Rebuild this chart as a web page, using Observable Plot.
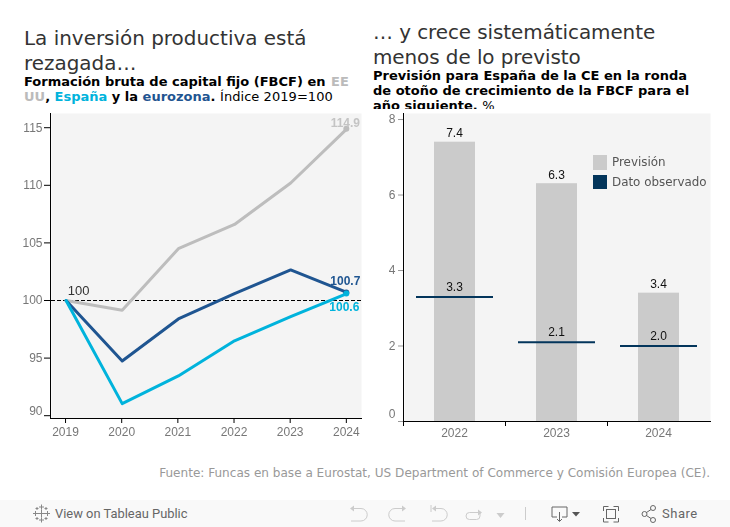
<!DOCTYPE html>
<html><head><meta charset="utf-8">
<script src="https://cdn.jsdelivr.net/npm/d3@7"></script>
<script src="https://cdn.jsdelivr.net/npm/@observablehq/plot@0.6"></script>
<style>
html,body{margin:0;padding:0;background:#fff;overflow:hidden}
#root{position:relative;width:730px;height:527px;font-family:"DejaVu Sans",sans-serif}
.abs{position:absolute}
.title{font-size:19.95px;line-height:24.5px;color:#333;white-space:pre}
.sub{font-size:13px;line-height:15px;color:#000;font-weight:bold;white-space:pre}
.sub span.n{font-weight:normal}
.leg{font-size:11.9px;color:#555}
svg{overflow:visible}
#left,#right{will-change:transform}
#bar{left:0;top:500px;width:730px;height:27px;background:#f9f9f9}
#bar svg{position:absolute;left:0;top:0}
</style></head><body><div id="root">
<div class="abs title" style="left:24px;top:26px">La inversión productiva está
rezagada…</div>
<div class="abs sub" style="left:24px;top:74px">Formación bruta de capital fijo (FBCF) en <span style="color:#bbb;margin-left:1px">EE</span>
<span style="color:#bbb">UU</span>, <span style="color:#00b3dc">España</span> y la <span style="color:#1f5591">eurozona</span>. <span class="n" style="letter-spacing:.05px">Índice 2019=100</span></div>
<div class="abs title" style="left:373px;top:20px;letter-spacing:-.07px">… y crece sistemáticamente
menos de lo previsto</div>
<div class="abs sub" style="left:373px;top:68px;height:41px;overflow:hidden"><span>Previsión para España de la CE en la ronda</span>
<span>de otoño de crecimiento de la FBCF para el</span>
<span>año siguiente.</span> <span class="n">%</span></div>
<div id="left" class="abs" style="left:0;top:113px"></div>
<div id="right" class="abs" style="left:365px;top:113px"></div>
<div class="abs" style="left:593px;top:155px;width:14px;height:15px;background:#cbcbcb"></div>
<div class="abs leg" style="left:612px;top:155px">Previsión</div>
<div class="abs" style="left:593px;top:175px;width:14px;height:14px;background:#03355b"></div>
<div class="abs leg" style="left:612px;top:175px">Dato observado</div>
<div class="abs" style="right:20px;top:466px;font-size:12.07px;color:#999;white-space:pre">Fuente: Funcas en base a Eurostat, US Department of Commerce y Comisión Europea (CE).</div>
<div id="bar" class="abs">
<div class="abs" style="left:55px;top:6px;font:400 12.9px Roboto,sans-serif;color:#666">View on Tableau Public</div>
<div class="abs" style="left:662px;top:6px;font:400 13px Roboto,sans-serif;letter-spacing:.5px;color:#666">Share</div>
<svg width="730" height="27" fill="none" stroke-width="1">
<g stroke="#888"><path d="M37.500 13.500h8M41.500 9.500v8"/><path d="M41.500 4.500v5M39 7h5M41.500 17.500v5M39 20h5M33 13.500h5M35.500 11v5M45 13.500h5M47.500 11v5M35.500 8.500h3M37 7v3M44.500 8.500h3M46 7v3M35.500 18.500h3M37 17v3M44.500 18.500h3M46 17v3"/></g>
<g stroke="#ccc"><path d="M351 8.500h10a6.250 6.250 0 0 1 0 12.500h-10"/><path d="M405 8.500h-10a6.250 6.250 0 0 0 0 12.500h10"/><path d="M431 5v7M433 8.500h8a6.250 6.250 0 0 1 0 12.500h-9"/><path d="M480 12v4a3.500 3.500 0 0 1-3.500 3.500h-7a3.500 3.500 0 0 1 0-7h10"/><path d="M525.500 7v13"/></g>
<path fill="#ccc" stroke="none" d="M350 8.500l4-3v6zM406 8.500l-4-3v6zM432 8.500l4-3v6zM482 12.500l-4-3v6zM496.500 13h8l-4 5z"/>
<g stroke="#666"><path d="M557 17h-5V7h15v10h-5M559.500 12v9"/><path d="M557 19l2.500 2.500 2.500-2.500"/><rect x="606.500" y="9.500" width="9" height="9"/><path d="M603.500 11V6.500h5M613.500 6.500h5V11M618.500 18v4h-5M608.500 22h-5v-4"/><circle cx="653" cy="8" r="2.500"/><circle cx="653" cy="20" r="2.500"/><circle cx="644.500" cy="14" r="2.500"/><path d="M646.500 12.500l4.500-3M646.500 15.500l4.500 3"/></g>
<path fill="#555" stroke="none" d="M572 12h8l-4 4.500z"/>
</svg></div>
</div>
<script>
const years = [2019, 2020, 2021, 2022, 2023, 2024];
const eeuu = [100, 99.15, 104.5, 106.6, 110.2, 114.9];
const eurozona = [100, 94.75, 98.4, 100.6, 102.65, 100.7];
const espana = [100, 91.05, 93.45, 96.5, 98.6, 100.6];
const yTicksLeft = [95, 100, 105, 110, 115];
const yBottomLeft = [90];
const rounds = ["2022", "2023", "2024"];
const prevision = [7.4, 6.3, 3.4];
const observado = [3.3, 2.1, 2.0];
const yTicksRight = [2, 4, 6, 8];
const yBottomRight = [0];
const GREY = "#bdbdbd", CYAN = "#00b3dc", BLUE = "#1f5591", NAVY = "#03355b", TICK = "#777";
const tickFont = {fontFamily: "'Liberation Sans',Arial,sans-serif", fontSize: 12, color: TICK};
const series = (v) => years.map((y, i) => ({y, v: v[i]}));
const last = (v) => [{y: years[5], v: v[5]}];

const left = Plot.plot({
  width: 365, height: 340, marginLeft: 51, marginRight: 4, marginTop: 0, marginBottom: 35,
  style: {background: "transparent", ...tickFont},
  x: {domain: [2018.75, 2024.27], label: null},
  y: {domain: [89.757, 116.233], label: null},
  marks: [
    Plot.frame({fill: "#f4f4f4", stroke: null}),
    Plot.axisX({ticks: years, tickFormat: "d", tickSize: 5, tickPadding: 4, fill: TICK, stroke: "#000", label: null}),
    Plot.axisY({ticks: yTicksLeft, tickSize: 6, tickPadding: 2, dx: -1, fill: TICK, stroke: "#000", label: null}),
    Plot.axisY({ticks: yBottomLeft, tickSize: 6, text: null, dx: -1, stroke: "#000", label: null}),
    Plot.axisY({ticks: yBottomLeft, tickSize: 0, tickPadding: 8, dx: -1, dy: -5, fill: TICK, label: null}),
    Plot.frame({anchor: "left", stroke: "#000", dx: -1}),
    Plot.frame({anchor: "bottom", stroke: "#000"}),
    Plot.ruleY([100], {stroke: "#000", strokeDasharray: "4 2", strokeWidth: 1}),
    Plot.line(series(eeuu), {x: "y", y: "v", stroke: GREY, strokeWidth: 3, dx: 0.5}),
    Plot.line(series(eurozona), {x: "y", y: "v", stroke: BLUE, strokeWidth: 3, dx: 0.5}),
    Plot.line(series(espana), {x: "y", y: "v", stroke: CYAN, strokeWidth: 3, dx: 0.5}),
    Plot.dot(last(eeuu), {x: "y", y: "v", fill: GREY, r: 3}),
    Plot.dot(last(eurozona), {x: "y", y: "v", fill: BLUE, r: 3}),
    Plot.dot(last(espana), {x: "y", y: "v", fill: CYAN, r: 3}),
    Plot.text(last(eeuu), {x: "y", y: "v", text: (d) => d.v.toFixed(1), fill: "#c4c4c4", fontWeight: "bold", dy: -6, dx: -1, fontSize: 12}),
    Plot.text(last(eurozona), {x: "y", y: "v", text: (d) => d.v.toFixed(1), fill: BLUE, fontWeight: "bold", dy: -11, dx: -1, fontSize: 12}),
    Plot.text(last(espana), {x: "y", y: "v", text: (d) => d.v.toFixed(1), fill: CYAN, fontWeight: "bold", dy: 14, dx: -2, fontSize: 12}),
    Plot.text([{y: 2019, v: 100}], {x: "y", y: "v", text: (d) => String(d.v), fill: "#333", dy: -10, dx: 13, fontSize: 13})
  ]
});
document.getElementById("left").append(left);

const barData = rounds.map((r, i) => ({r, p: prevision[i], o: observado[i]}));
const right = Plot.plot({
  width: 345, height: 340, marginLeft: 39, marginRight: 0, marginTop: 0, marginBottom: 32,
  style: {background: "transparent", ...tickFont},
  x: {domain: rounds, paddingInner: 0, paddingOuter: 0, label: null},
  y: {domain: [0, 8.16], label: null},
  marks: [
    Plot.frame({fill: "#f4f4f4", stroke: null}),
    Plot.barY(barData, {x: "r", y: "p", fill: "#cbcbcb", insetLeft: 30, insetRight: 31}),
    Plot.tickY(barData, {x: "r", y: "o", stroke: NAVY, strokeWidth: 2, insetLeft: 12, insetRight: 13}),
    Plot.axisX({tickSize: 5, text: null, dx: -52, stroke: "#000", label: null}),
    Plot.axisX({tickSize: 0, tickPadding: 7, dx: -1, fill: TICK, label: null}),
    Plot.axisY({ticks: yTicksRight, tickSize: 5, tickPadding: 3, dx: -1, fill: TICK, stroke: "#999", label: null}),
    Plot.axisY({ticks: yBottomRight, tickSize: 5, text: null, dx: -1, stroke: "#999", label: null}),
    Plot.axisY({ticks: yBottomRight, tickSize: 0, tickPadding: 8, dx: -1, dy: -7, fill: TICK, label: null}),
    Plot.frame({anchor: "left", stroke: "#000", dx: -1}),
    Plot.frame({anchor: "bottom", stroke: "#000"}),
    Plot.text(barData, {x: "r", y: "p", text: (d) => d.p.toFixed(1), fill: "#111", dy: -9, dx: -1, fontSize: 12}),
    Plot.text(barData, {x: "r", y: "o", text: (d) => d.o.toFixed(1), fill: "#111", dy: -10, dx: -1, fontSize: 12})
  ]
});
document.getElementById("right").append(right);
</script></body></html>
